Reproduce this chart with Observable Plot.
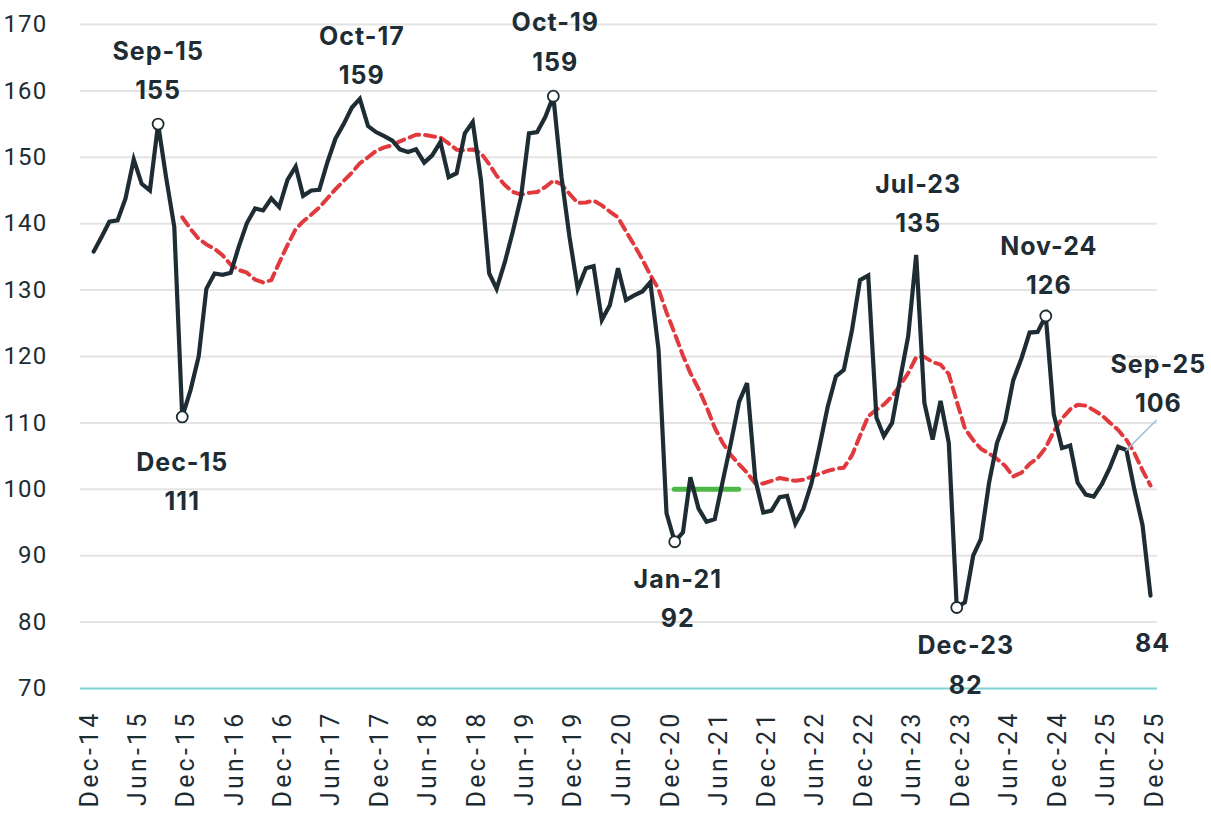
<!DOCTYPE html>
<html><head><meta charset="utf-8">
<script src="https://cdn.jsdelivr.net/npm/d3@7"></script>
<script src="https://cdn.jsdelivr.net/npm/@observablehq/plot@0.6"></script>
<style>
body{margin:0;background:#fff;}
#chart svg{display:block;}
#chart g[aria-label="x-axis tick label"] text{letter-spacing:3.2px;}
#chart g[aria-label="y-axis tick label"] text{letter-spacing:1.2px;}
#chart g.ann text{letter-spacing:1px;}
</style></head><body><div id="chart"></div>
<script>
// ---- data ----
const firstMonth = "Jan-15";
const values = [
  135.8,138.1,140.3,140.5,143.8,149.7,146.0,145.0,155.0,147.0,139.5,110.9,
  114.9,120.0,130.2,132.5,132.3,132.6,136.5,140.1,142.3,142.0,143.8,142.5,
  146.6,148.6,144.2,145.0,145.1,149.3,152.8,155.0,157.5,158.8,154.7,153.8,
  153.2,152.5,151.2,150.8,151.2,149.2,150.3,152.3,147.0,147.6,153.6,155.3,
  146.6,132.5,130.2,134.2,138.8,144.0,153.6,153.8,156.1,159.2,147.0,138.0,
  130.2,133.3,133.6,125.5,127.7,133.3,128.5,129.2,129.8,131.2,121.0,96.4,
  92.1,93.5,101.8,97.1,95.1,95.5,101.2,107.0,113.2,116.0,101.5,96.5,
  96.8,98.8,99.0,94.8,97.0,100.9,106.4,112.4,117.0,118.0,124.0,131.5,
  132.2,110.8,108.0,110.0,116.5,123.1,135.3,113.0,107.5,113.3,107.0,82.2,
  83.0,90.0,92.5,101.0,107.0,110.3,116.4,119.7,123.6,123.7,126.1,111.3,
  106.2,106.6,101.0,99.2,98.9,100.8,103.3,106.4,105.9,100.0,94.6,84.0
];
const movingAverageMonths = 12;
const xTickLabels = ["Dec-14","Jun-15","Dec-15","Jun-16","Dec-16","Jun-17","Dec-17","Jun-18","Dec-18","Jun-19","Dec-19","Jun-20","Dec-20","Jun-21","Dec-21","Jun-22","Dec-22","Jun-23","Dec-23","Jun-24","Dec-24","Jun-25","Dec-25"];
const yTicks = [70,80,90,100,110,120,130,140,150,160,170];
const markedMonths = ["Sep-15","Dec-15","Oct-19","Jan-21","Dec-23","Nov-24"];
const annotatedMonths = ["Sep-15","Oct-17","Oct-19","Dec-15","Jan-21","Jul-23","Nov-24","Dec-23","Sep-25","Dec-25"];
const showMonthName = [true,true,true,true,true,true,true,true,true,false];
const greenLevel = 100;
const greenSpan = ["Jan-21","Sep-21"];
const leaderMonth = "Sep-25";

// ---- layout / style (not data) ----
const annotationOffsets = {
  "Sep-15":[0,-57], "Oct-17":[2,-47], "Oct-19":[2,-58], "Dec-15":[0,61],
  "Jan-21":[3,53], "Jul-23":[2,-55], "Nov-24":[3,-54], "Dec-23":[9,54],
  "Sep-25":[32,-70], "Dec-25":[2,44]
};
const ink = "#1e2d34";

const parse = d3.utcParse("%b-%y");
const fmt = d3.utcFormat("%b-%y");
const start = parse(firstMonth);
const series = values.map((v, i) => ({date: d3.utcMonth.offset(start, i), value: v}));
const byMonth = new Map(series.map(d => [fmt(d.date), d]));
const xTicks = xTickLabels.map(parse);

const annMarks = annotatedMonths.map((m, i) => {
  const d = byMonth.get(m);
  const txt = showMonthName[i] ? `${m}\n${Math.round(d.value)}` : `${Math.round(d.value)}`;
  const [dx, dy] = annotationOffsets[m];
  return Plot.text([d], {x: "date", y: "value", text: () => txt, dx, dy,
    lineAnchor: "middle", lineHeight: 1.58, fontSize: 25, fontWeight: 700,
    fill: ink, fontFamily: "Inter, 'Open Sans', sans-serif", textAnchor: "middle", className: "ann"});
});

const leader = byMonth.get(leaderMonth);
const chart = Plot.plot({
  width: 1211, height: 822,
  marginLeft: 80, marginRight: 54, marginTop: 24, marginBottom: 134,
  style: {fontFamily: "Roboto, sans-serif", background: "#fff"},
  x: {type: "utc", domain: [xTicks[0], xTicks[xTicks.length - 1]], insetLeft: 5, insetRight: 7},
  y: {domain: [70, 170]},
  marks: [
    Plot.ruleY(yTicks.filter(v => v > 70), {stroke: "#e4e4e4", strokeWidth: 2}),
    Plot.ruleY([70], {stroke: "#7fd3d2", strokeWidth: 2}),
    Plot.axisY({ticks: yTicks, tickSize: 0, tickPadding: 33, fontSize: 24, fill: ink, label: null}),
    Plot.axisX({ticks: xTicks, tickFormat: fmt, tickRotate: -90, tickSize: 0, tickPadding: 22, fontSize: 25, fill: ink, label: null, dx: 4}),
    Plot.ruleY([greenLevel], {x1: parse(greenSpan[0]), x2: parse(greenSpan[1]), stroke: "#4db848", strokeWidth: 5, strokeLinecap: "round"}),
    Plot.lineY(series, Plot.windowY({k: movingAverageMonths, anchor: "end", strict: true},
      {x: "date", y: "value", stroke: "#e0393e", strokeWidth: 4, strokeDasharray: "10,6"})),
    Plot.lineY(series, {x: "date", y: "value", stroke: ink, strokeWidth: 4.2, strokeLinejoin: "miter", strokeMiterlimit: 4}),
    Plot.vector([leader], {x: "date", y: "value", anchor: "start", rotate: 45, length: 42,
      stroke: "#9cc3d6", strokeWidth: 1.5,
      shape: {draw(ctx, l) { ctx.moveTo(0, 0); ctx.lineTo(0, -l); }}}),
    Plot.dot(markedMonths.map(m => byMonth.get(m)), {x: "date", y: "value", r: 5.5, fill: "white", stroke: ink, strokeWidth: 1.8}),
    ...annMarks
  ]
});
document.getElementById("chart").appendChild(chart);
</script>
</body></html>
